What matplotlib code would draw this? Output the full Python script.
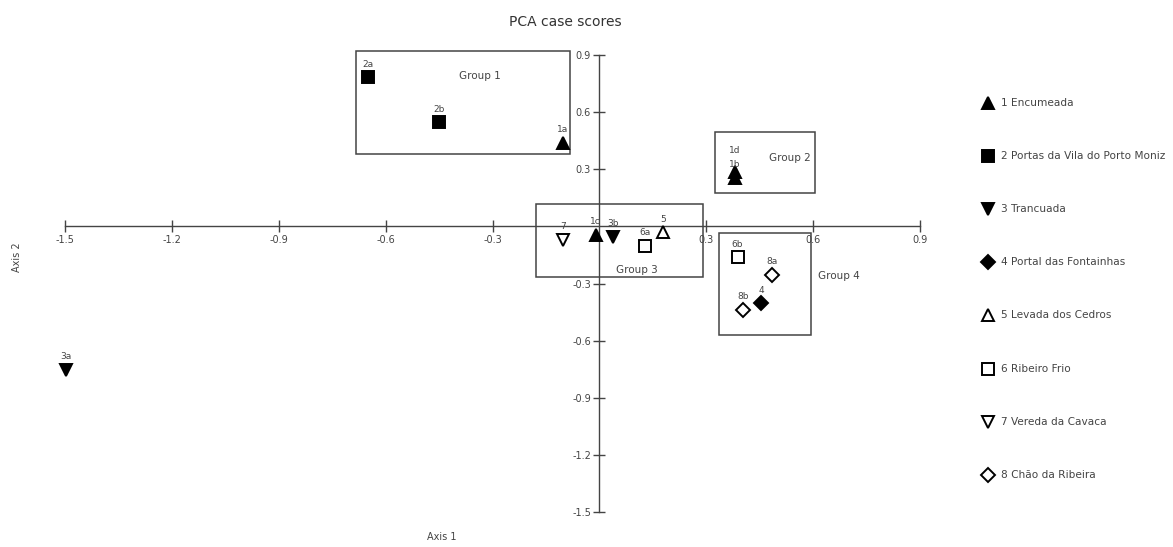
import matplotlib
matplotlib.use("Agg")
import matplotlib.pyplot as plt
from matplotlib.lines import Line2D
from matplotlib.patches import Rectangle

plt.rcParams['font.family'] = ['DejaVu Sans']

# ---- data ----
case_labels = ['2a', '2b', '1a', '1d', '1b', '1c', '3b', '7', '6a', '5', '6b', '8a', '4', '8b', '3a']
case_site = [2, 2, 1, 1, 1, 1, 3, 7, 6, 5, 6, 8, 4, 8, 3]
axis1 = [-0.649, -0.451, -0.103, 0.380, 0.380, -0.010, 0.039, -0.101, 0.128, 0.179, 0.388, 0.484, 0.454, 0.404, -1.498]
axis2 = [0.783, 0.547, 0.440, 0.285, 0.255, -0.045, -0.054, -0.071, -0.101, -0.031, -0.162, -0.255, -0.404, -0.439, -0.754]

site_names = ['1 Encumeada', '2 Portas da Vila do Porto Moniz', '3 Trancuada',
              '4 Portal das Fontainhas', '5 Levada dos Cedros', '6 Ribeiro Frio',
              '7 Vereda da Cavaca', '8 Chão da Ribeira']
site_marker = ['^', 's', 'v', 'D', '^', 's', 'v', 'D']
site_filled = [True, True, True, True, False, False, False, False]

group_names = ['Group 1', 'Group 2', 'Group 3', 'Group 4']
group_x0 = [-0.683, 0.324, -0.179, 0.337]
group_x1 = [-0.083, 0.605, 0.292, 0.593]
group_y0 = [0.380, 0.177, -0.268, -0.570]
group_y1 = [0.921, 0.497, 0.117, -0.036]
group_text_x = [-0.335, 0.535, 0.105, 0.672]
group_text_y = [0.790, 0.360, -0.230, -0.260]

ticks = [-1.5, -1.2, -0.9, -0.6, -0.3, 0.3, 0.6, 0.9]

# ---- figure ----
W, H = 1173, 547
fig = plt.figure(figsize=(W / 100, H / 100), dpi=100)
xlim = (-1.55, 0.95)
ylim = (-1.6, 1.0)
ppx = 356.25
ppy = 190.4
left_px = 65 - (-1.5 - xlim[0]) * ppx
right_px = 920 + (xlim[1] - 0.9) * ppx
top_px = 55 - (ylim[1] - 0.9) * ppy
bot_px = 512 + (-1.5 - ylim[0]) * ppy
ax = fig.add_axes([left_px / W, 1 - bot_px / H, (right_px - left_px) / W, (bot_px - top_px) / H])
ax.set_xlim(*xlim)
ax.set_ylim(*ylim)

axcol = '#444444'
txtcol = '#444444'
for s in ['top', 'right']:
    ax.spines[s].set_visible(False)
ax.spines['left'].set_position(('data', 0))
ax.spines['bottom'].set_position(('data', 0))
ax.spines['left'].set_bounds(-1.5, 0.9)
ax.spines['bottom'].set_bounds(-1.5, 0.9)
for s in ['left', 'bottom']:
    ax.spines[s].set_color(axcol)
    ax.spines[s].set_linewidth(1.0)
ax.set_xticks(ticks)
ax.set_yticks(ticks)
ax.set_xticklabels([f'{t:.1f}' for t in ticks])
ax.set_yticklabels([f'{t:.1f}' for t in ticks])
ax.tick_params(direction='inout', length=8, width=1.0, color=axcol,
               labelsize=7, labelcolor=txtcol, pad=2)
ax.patch.set_visible(False)

# groups
for name, x0, x1, y0, y1, tx, ty in zip(group_names, group_x0, group_x1, group_y0,
                                       group_y1, group_text_x, group_text_y):
    ax.add_patch(Rectangle((x0, y0), x1 - x0, y1 - y0, fill=False,
                           edgecolor=axcol, linewidth=1.1, clip_on=False))
    ax.text(tx, ty, name, fontsize=7.5, color=txtcol, ha='center', va='center')

# points
label_dy = {'1d': 22, '1b': 13}
for lab, s, x, y in zip(case_labels, case_site, axis1, axis2):
    i = s - 1
    filled = site_filled[i]
    ax.plot([x], [y], marker=site_marker[i], markersize=9 if site_marker[i] != 'D' else 7.5,
            markerfacecolor='black' if filled else 'white', markeredgecolor='black',
            markeredgewidth=1.4, linestyle='none', clip_on=False, zorder=3)
    ax.annotate(lab, (x, y), xytext=(0, label_dy.get(lab, 13) * 0.72),
                textcoords='offset points', ha='center', va='center',
                fontsize=6.5, color=txtcol)

# legend (manual, figure coordinates)
leg_x = 988
leg_y0 = 103
leg_dy = 53.1
for k, (name, m, f) in enumerate(zip(site_names, site_marker, site_filled)):
    yy = 1 - (leg_y0 + k * leg_dy) / H
    fig.add_artist(Line2D([leg_x / W], [yy], transform=fig.transFigure, marker=m,
                          linestyle='none', markersize=9 if m != 'D' else 7.5,
                          markerfacecolor='black' if f else 'white',
                          markeredgecolor='black', markeredgewidth=1.4))
    fig.text((leg_x + 13) / W, yy, name, fontsize=7.6, color=txtcol, ha='left', va='center')

fig.text(565 / W, 1 - 22 / H, 'PCA case scores', fontsize=10, color='#333333',
         ha='center', va='center')
fig.text(442 / W, 1 - 537 / H, 'Axis 1', fontsize=7, color=txtcol, ha='center', va='center')
fig.text(17 / W, 1 - 257 / H, 'Axis 2', fontsize=7, color=txtcol, ha='center', va='center',
         rotation=90)

fig.savefig('out.png', dpi=100)
